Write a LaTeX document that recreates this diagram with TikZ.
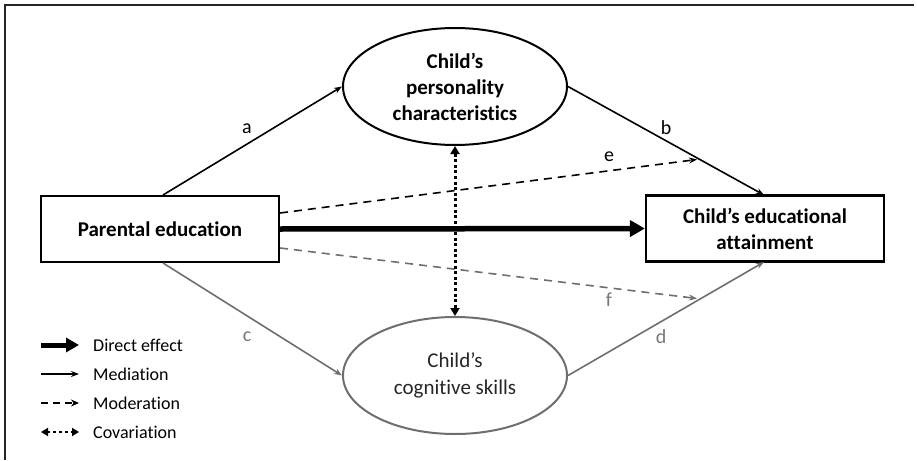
\documentclass[tikz,border=0pt]{standalone}
\usepackage{fontspec}
\setmainfont{Carlito}[RawFeature=-liga]
\usetikzlibrary{arrows.meta,shapes.geometric}
\definecolor{lgray}{HTML}{6E6E6E}
\definecolor{tgray}{HTML}{777777}
\tikzset{
  boxnode/.style={draw, line width=2.2pt, minimum width=238pt, minimum height=66pt, inner sep=0pt, align=center, font=\fontsize{21}{26}\selectfont\bfseries},
  ellnode/.style={ellipse, line width=2pt, minimum width=224pt, minimum height=117pt, inner sep=0pt, align=center, font=\fontsize{21}{26.5}\selectfont},
  medarrow/.style={line width=1.6pt, -{Stealth[length=8pt,width=6pt]}},
  modarrow/.style={line width=1.6pt, dash pattern=on 8pt off 6pt, -{Stealth[length=8pt,width=6pt]}},
  dirarrow/.style={line width=5.5pt, -{Triangle[length=15pt,width=16pt]}},
  covarrow/.style={line width=3pt, dash pattern=on 3pt off 2.6pt, {Triangle[length=8pt,width=9pt]}-{Triangle[length=8pt,width=9pt]}},
  lab/.style={font=\fontsize{20}{24}\selectfont, inner sep=0pt},
  legtxt/.style={font=\fontsize{18}{22}\selectfont, anchor=west, inner sep=0pt},
}
\begin{document}
\begin{tikzpicture}[x=1pt,y=-1pt]
\useasboundingbox (0,0) rectangle (917,460);
% frame (top and left only)
\coordinate (ftr) at (914,5);
\coordinate (ftl) at (5,5);
\coordinate (fbl) at (5,460);
\draw[line width=1.5pt, color=black!85] (ftr) -- (ftl) -- (fbl);

\node[boxnode] (pe) at (160,229) {Parental education};
\node[boxnode] (ce) at (765,228.5) {Child's educational\\attainment};
\node[ellnode, draw=black, font=\fontsize{21}{26}\selectfont\bfseries] (pc) at (455,86.5) {Child's\\personality\\characteristics};
\node[ellnode, draw=lgray, text=black!85] (cs) at (455,375.5) {Child's\\cognitive skills};

% coordinates for arrow ends
\coordinate (aS) at (163,195);
\coordinate (cS) at (163,263);
\coordinate (bE) at (764,195);
\coordinate (dE) at (764,262);
\coordinate (eS) at (280,213);
\coordinate (eE) at (697,159.5);
\coordinate (fS) at (280,248);
\coordinate (fE) at (697,298.5);

\draw[medarrow] (aS) -- (pc.west);
\draw[medarrow] (pc.east) -- (bE);
\draw[medarrow, color=lgray] (cS) -- (cs.west);
\draw[medarrow, color=lgray] (cs.east) -- (dE);
\draw[modarrow] (eS) -- (eE);
\draw[modarrow, color=lgray] (fS) -- (fE);
\draw[dirarrow] (pe.east) -- (ce.west);
\draw[covarrow] (pc.south) -- (cs.north);

\node[lab] (la) at (247,129) {a};
\node[lab] (lb) at (666,128) {b};
\node[lab] (le) at (609,157) {e};
\node[lab, text=tgray] (lc) at (247,337) {c};
\node[lab, text=tgray] (lf) at (609,300) {f};
\node[lab, text=tgray] (ld) at (661,337) {d};

% legend
\coordinate (l1s) at (41,345); \coordinate (l1e) at (79,345);
\coordinate (l2s) at (41,374); \coordinate (l2e) at (79,374);
\coordinate (l3s) at (41,403); \coordinate (l3e) at (79,403);
\coordinate (l4s) at (41,432); \coordinate (l4e) at (79,432);
\draw[line width=5pt, -{Triangle[length=13pt,width=14pt]}] (l1s) -- (l1e);
\draw[line width=1.6pt, -{Stealth[length=8pt,width=6pt]}] (l2s) -- (l2e);
\draw[line width=1.6pt, dash pattern=on 7pt off 5pt, -{Stealth[length=8pt,width=7pt]}] (l3s) -- (l3e);
\draw[line width=2.8pt, dash pattern=on 2.8pt off 3pt, {Triangle[length=7pt,width=8pt]}-{Triangle[length=7pt,width=8pt]}] (l4s) -- (l4e);
\node[legtxt] (t1) at (93,345) {Direct effect};
\node[legtxt] (t2) at (93,374) {Mediation};
\node[legtxt] (t3) at (93,403) {Moderation};
\node[legtxt] (t4) at (93,432) {Covariation};
\end{tikzpicture}
\end{document}
